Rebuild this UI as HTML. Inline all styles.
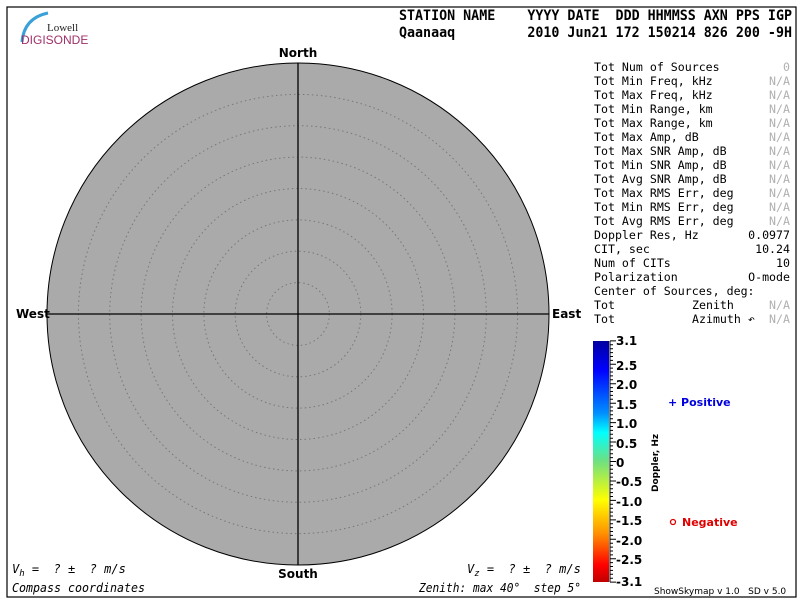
<!DOCTYPE html>
<html><head><meta charset="utf-8"><style>
html,body{margin:0;padding:0;background:#fff;width:800px;height:600px;overflow:hidden}
svg{display:block}
.m{font-family:"DejaVu Sans Mono","Liberation Mono",monospace;font-size:11.6px;fill:#000}
.g{fill:#b0b0b0}
.h{font-family:"DejaVu Sans Mono","Liberation Mono",monospace;font-size:14px;font-weight:bold}
.b{font-family:"DejaVu Sans","Liberation Sans",sans-serif;font-size:12px;font-weight:bold}
.c{font-family:"DejaVu Sans","Liberation Sans",sans-serif;font-size:12px;font-weight:bold}
.i{font-family:"DejaVu Sans Mono","Liberation Mono",monospace;font-size:12px;font-style:italic}
</style></head><body>
<svg width="800" height="600" viewBox="0 0 800 600" xmlns="http://www.w3.org/2000/svg">
<defs>
<linearGradient id="cb" x1="0" y1="0" x2="0" y2="1">
<stop offset="0" stop-color="#0000a0"/>
<stop offset="0.12" stop-color="#0000ff"/>
<stop offset="0.3" stop-color="#0090ff"/>
<stop offset="0.38" stop-color="#00ffff"/>
<stop offset="0.5" stop-color="#70e080"/>
<stop offset="0.66" stop-color="#ffff00"/>
<stop offset="0.8" stop-color="#ff9000"/>
<stop offset="0.93" stop-color="#ff0000"/>
<stop offset="1" stop-color="#c00000"/>
</linearGradient>
</defs>
<rect x="7" y="7" width="789" height="590" fill="none" stroke="#000" stroke-width="1.2"/>
<path d="M22 42 Q24 18 48 13" fill="none" stroke="#3aa0d8" stroke-width="3"/>
<text x="47" y="31" font-family="Liberation Serif,serif" font-size="11" fill="#222">Lowell</text>
<text x="21" y="44" font-family="Liberation Sans,sans-serif" font-size="12" fill="#a0306a">DIGISONDE</text>
<text class="h" x="399" y="20" textLength="393" lengthAdjust="spacingAndGlyphs" xml:space="preserve">STATION NAME    YYYY DATE  DDD HHMMSS AXN PPS IGP</text>
<text class="h" x="399" y="37" textLength="393" lengthAdjust="spacingAndGlyphs" xml:space="preserve">Qaanaaq         2010 Jun21 172 150214 826 200 -9H</text>
<circle cx="298" cy="314" r="251" fill="#aaaaaa" stroke="#000" stroke-width="1"/>
<g fill="none" stroke="#777" stroke-width="1" stroke-dasharray="1.5,3">
<circle cx="298" cy="314" r="31.4"/><circle cx="298" cy="314" r="62.8"/><circle cx="298" cy="314" r="94.1"/><circle cx="298" cy="314" r="125.5"/><circle cx="298" cy="314" r="156.9"/><circle cx="298" cy="314" r="188.3"/><circle cx="298" cy="314" r="219.6"/>
</g>
<line x1="298" y1="63" x2="298" y2="565" stroke="#000" stroke-width="1.3"/>
<line x1="47" y1="314" x2="549" y2="314" stroke="#000" stroke-width="1.3"/>
<text class="c" x="298" y="57" text-anchor="middle">North</text>
<text class="c" x="298" y="578" text-anchor="middle">South</text>
<text class="c" x="16" y="318">West</text>
<text class="c" x="552" y="318">East</text>
<g class="m" xml:space="preserve">
<text x="594" y="71">Tot Num of Sources</text><text x="790" y="71" text-anchor="end" class="m g">0</text>
<text x="594" y="85">Tot Min Freq, kHz</text><text x="790" y="85" text-anchor="end" class="m g">N/A</text>
<text x="594" y="99">Tot Max Freq, kHz</text><text x="790" y="99" text-anchor="end" class="m g">N/A</text>
<text x="594" y="113">Tot Min Range, km</text><text x="790" y="113" text-anchor="end" class="m g">N/A</text>
<text x="594" y="127">Tot Max Range, km</text><text x="790" y="127" text-anchor="end" class="m g">N/A</text>
<text x="594" y="141">Tot Max Amp, dB</text><text x="790" y="141" text-anchor="end" class="m g">N/A</text>
<text x="594" y="155">Tot Max SNR Amp, dB</text><text x="790" y="155" text-anchor="end" class="m g">N/A</text>
<text x="594" y="169">Tot Min SNR Amp, dB</text><text x="790" y="169" text-anchor="end" class="m g">N/A</text>
<text x="594" y="183">Tot Avg SNR Amp, dB</text><text x="790" y="183" text-anchor="end" class="m g">N/A</text>
<text x="594" y="197">Tot Max RMS Err, deg</text><text x="790" y="197" text-anchor="end" class="m g">N/A</text>
<text x="594" y="211">Tot Min RMS Err, deg</text><text x="790" y="211" text-anchor="end" class="m g">N/A</text>
<text x="594" y="225">Tot Avg RMS Err, deg</text><text x="790" y="225" text-anchor="end" class="m g">N/A</text>
<text x="594" y="239">Doppler Res, Hz</text><text x="790" y="239" text-anchor="end">0.0977</text>
<text x="594" y="253">CIT, sec</text><text x="790" y="253" text-anchor="end">10.24</text>
<text x="594" y="267">Num of CITs</text><text x="790" y="267" text-anchor="end">10</text>
<text x="594" y="281">Polarization</text><text x="790" y="281" text-anchor="end">O-mode</text>
<text x="594" y="295">Center of Sources, deg:</text>
<text x="594" y="309">Tot</text><text x="692" y="309">Zenith</text><text x="790" y="309" text-anchor="end" class="m g">N/A</text>
<text x="594" y="323">Tot</text><text x="692" y="323">Azimuth ↶</text><text x="790" y="323" text-anchor="end" class="m g">N/A</text>
</g>
<rect x="593" y="341" width="16" height="241" fill="url(#cb)"/>
<line x1="610" y1="341" x2="610" y2="582" stroke="#000"/>
<path stroke="#000" stroke-width="1" fill="none" d="M610 340.9h6M610 344.8h3M610 348.7h3M610 352.6h3M610 356.5h3M610 360.4h3M610 364.3h6M610 368.1h3M610 372h3M610 375.9h3M610 379.8h3M610 383.7h6M610 387.6h3M610 391.5h3M610 395.4h3M610 399.3h3M610 403.2h6M610 407h3M610 410.9h3M610 414.8h3M610 418.7h3M610 422.6h6M610 426.5h3M610 430.4h3M610 434.3h3M610 438.2h3M610 442h6M610 445.9h3M610 449.8h3M610 453.7h3M610 457.6h3M610 461.5h6M610 465.4h3M610 469.3h3M610 473.2h3M610 477.1h3M610 481h6M610 484.8h3M610 488.7h3M610 492.6h3M610 496.5h3M610 500.4h6M610 504.3h3M610 508.2h3M610 512.1h3M610 516h3M610 519.9h6M610 523.7h3M610 527.6h3M610 531.5h3M610 535.4h3M610 539.3h6M610 543.2h3M610 547.1h3M610 551h3M610 554.9h3M610 558.8h6M610 562.6h3M610 566.5h3M610 570.4h3M610 574.3h3M610 578.2h3M610 582.1h6"/>
<g class="b">
<text x="616" y="345">3.1</text><text x="616" y="370">2.5</text><text x="616" y="389">2.0</text><text x="616" y="409">1.5</text><text x="616" y="428">1.0</text><text x="616" y="448">0.5</text><text x="616" y="467">0</text><text x="616" y="486">-0.5</text><text x="616" y="506">-1.0</text><text x="616" y="525">-1.5</text><text x="616" y="545">-2.0</text><text x="616" y="564">-2.5</text><text x="616" y="586">-3.1</text>
</g>
<text transform="translate(658,492) rotate(-90)" font-family="DejaVu Sans,sans-serif" font-size="9" font-weight="bold">Doppler, Hz</text>
<text x="668" y="406" class="b" style="font-size:11px;fill:#0000e0">+ Positive</text>
<circle cx="673" cy="522" r="2.5" fill="none" stroke="#e00000" stroke-width="1.3"/>
<text x="682" y="526" class="b" style="font-size:11px;fill:#e00000">Negative</text>
<text x="654" y="594" font-family="DejaVu Sans,sans-serif" font-size="9" xml:space="preserve">ShowSkymap v 1.0   SD v 5.0</text>
<text class="i" x="12" y="573" xml:space="preserve">V<tspan font-size="9" dy="3">h</tspan><tspan dy="-3"> =  ? ±  ? m/s</tspan></text>
<text class="i" x="467" y="573" xml:space="preserve">V<tspan font-size="9" dy="3">z</tspan><tspan dy="-3"> =  ? ±  ? m/s</tspan></text>
<text class="i" x="12" y="592" textLength="133" lengthAdjust="spacingAndGlyphs">Compass coordinates</text>
<text class="i" x="419" y="592" xml:space="preserve" textLength="162" lengthAdjust="spacingAndGlyphs">Zenith: max 40°  step 5°</text>
</svg>
</body></html>
